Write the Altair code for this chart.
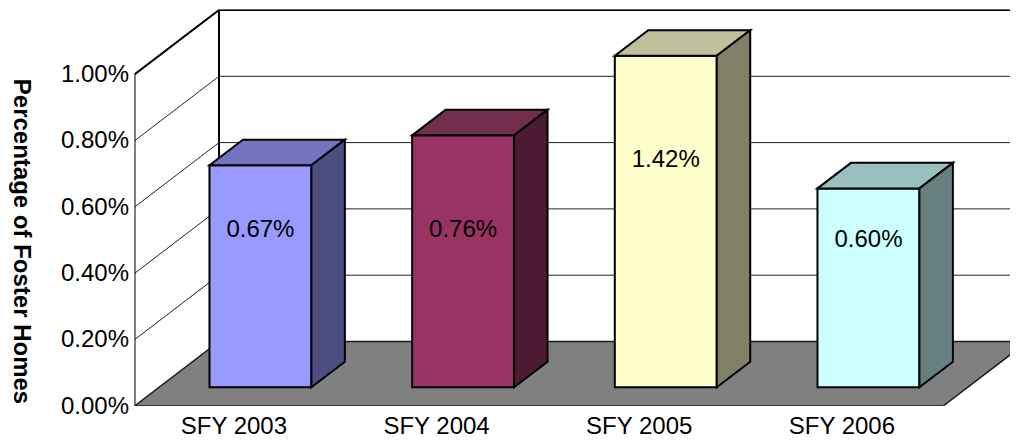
import altair as alt
import pandas as pd

# --- chart values ---
YEARS = ["SFY 2003", "SFY 2004", "SFY 2005", "SFY 2006"]
VALUES = [0.67, 0.76, 1.42, 0.60]            # percent, as labelled
AXIS_MAX = 1.00                              # bars are cut off at the axis maximum
TICKS = [0, 0.2, 0.4, 0.6, 0.8, 1.0]
FRONT = ["#9999FF", "#993366", "#FFFFCC", "#CCFFFF"]
TOP = ["#7373BF", "#732D4D", "#BFBF99", "#99BFBF"]
SIDE = ["#4D4D80", "#4D1A33", "#808066", "#668080"]
LABEL_AT = [0.475, 0.475, 0.686, 0.445]      # height of each hand-placed data label

# --- oblique projection (category units / value units) ---
CAT_PX, VAL_PX = 202.67, 331.5
DX, DY = 84.5 / CAT_PX, 64.5 / VAL_PX        # shift of the back wall
D0, D1 = 0.29, 0.686                         # bar depth range
U0, U1 = 0.249, 0.752                        # bar extent inside a category
WIDTH, HEIGHT = 875.5, 396.5
XMAX, YMAX = WIDTH / CAT_PX, HEIGHT / VAL_PX
NCAT = len(YEARS)
FLOOR_END = 3.99
LABEL_U = 0.488


def P(u, d, v):
    return u + d * DX, v + d * DY


def band(face, fill, pts):
    """pts: (x, y, y2) columns of an area shape"""
    return [dict(face=face, fill=fill, x=x, y=y, y2=y2) for x, y, y2 in pts]


faces = []
for i, val in enumerate(VALUES):
    h = min(val, AXIS_MAX)
    xa, ya = P(i + U0, D0, 0)
    xb, _ = P(i + U1, D0, 0)
    xc, yc = P(i + U0, D1, 0)
    xd, _ = P(i + U1, D1, 0)
    faces += band(f"front{i}", FRONT[i], [(xa, ya, ya + h), (xb, ya, ya + h)])
    faces += band(f"top{i}", TOP[i], [(xa, ya + h, ya + h), (xc, yc + h, ya + h),
                                      (xb, yc + h, ya + h), (xd, yc + h, yc + h)])
    faces += band(f"side{i}", SIDE[i], [(xb, ya, ya + h), (xd, yc, yc + h)])

floor = band("floor", "#808080", [(0, 0, 0), (DX, DY, 0), (FLOOR_END, DY, 0),
                                  (FLOOR_END + DX, DY, DY)])

x_scale = alt.Scale(domain=[0, XMAX], nice=False, zero=False)
y_scale = alt.Scale(domain=[0, YMAX], nice=False, zero=False)
FONT = "Liberation Sans"
label_expr = "[" + ",".join(f"'{y}'" for y in YEARS) + "][floor(datum.value)]"

x_axis = alt.Axis(
    values=[i + LABEL_U for i in range(NCAT)], labelExpr=label_expr, title=None, grid=False,
    domain=False, ticks=False, labelFont=FONT, labelFontSize=24, labelColor="#000000",
    labelPadding=8, labelOverlap=False, labelBound=False, labelFlush=False)
y_axis = alt.Axis(
    values=TICKS, labelExpr="format(datum.value, '.2f') + '%'",
    title="Percentage of Foster Homes", grid=False, domain=False,
    ticks=False, labelFont=FONT, labelFontSize=24, labelColor="#000000", labelPadding=6,
    labelOverlap=False, labelBound=False, labelFlush=False, titleFont=FONT, titleFontSize=24,
    titleFontWeight="bold", titleColor="#000000", titleAngle=90, titleX=-114.5, titleY=231.5,
    titleAlign="center", titleBaseline="middle")

x_enc = alt.X("x:Q", scale=x_scale, axis=x_axis)
y_enc = alt.Y("y:Q", scale=y_scale, axis=y_axis, stack=None)

# wall grid lines: side wall + back wall
grid_rows = []
for t in TICKS[1:]:
    x0, y0 = P(0, 0, t)
    x1, y1 = P(0, 1, t)
    x2, y2 = P(NCAT, 1, t)
    grid_rows += [dict(g=f"g{t}", o=0, x=x0, y=y0), dict(g=f"g{t}", o=1, x=x1, y=y1),
                  dict(g=f"g{t}", o=2, x=x2, y=y2)]
grid = alt.Chart(pd.DataFrame(grid_rows)).mark_line(color="#222222", strokeWidth=1, clip=True).encode(
    x=x_enc, y=y_enc, detail="g:N", order="o:Q")

# heavy wall frame
x_top, y_top = P(0, 1, AXIS_MAX)
x_bot, y_bot = P(0, 1, 0)
x_far, _ = P(NCAT, 1, 0)
frame_rows = [
    dict(g="left", o=0, x=0, y=0), dict(g="left", o=1, x=0, y=AXIS_MAX),
    dict(g="left", o=2, x=x_top, y=y_top), dict(g="left", o=3, x=x_far, y=y_top),
    dict(g="back", o=0, x=x_bot, y=y_bot), dict(g="back", o=1, x=x_top, y=y_top),
]
frame = alt.Chart(pd.DataFrame(frame_rows)).mark_line(color="#000000", strokeWidth=2, clip=True).encode(
    x=x_enc, y=y_enc, detail="g:N", order="o:Q")

floor_layer = alt.Chart(pd.DataFrame(floor)).mark_area(
    fill="#808080", stroke="#1a1a1a", strokeWidth=1.5, clip=True, interpolate="linear"
).encode(x=x_enc, y=y_enc, y2="y2:Q")

bars = alt.Chart(pd.DataFrame(faces)).mark_area(
    stroke="#000000", strokeWidth=2, strokeJoin="miter", interpolate="linear"
).encode(x=x_enc, y=y_enc, y2="y2:Q", detail="face:N", fill=alt.Fill("fill:N", scale=None))

labels = pd.DataFrame({
    "x": [P(i + (U0 + U1) / 2, D0, 0)[0] for i in range(NCAT)],
    "y": [P(0, D0, 0)[1] + h for h in LABEL_AT],
    "t": [f"{v:.2f}%" for v in VALUES],
})
text = alt.Chart(labels).mark_text(font=FONT, fontSize=24, color="#000000", align="center",
                                   baseline="middle").encode(x=x_enc, y=y_enc, text="t:N")

chart = alt.layer(grid, frame, floor_layer, bars, text).properties(
    width=WIDTH, height=HEIGHT,
    padding={"left": 126.5, "top": 1.5, "right": 0, "bottom": 33},
    autosize=alt.AutoSizeParams(type="none"),
    background="#ffffff",
).configure_view(stroke=None)

chart.save("out.html", embed_options={"renderer": "svg", "actions": False})
